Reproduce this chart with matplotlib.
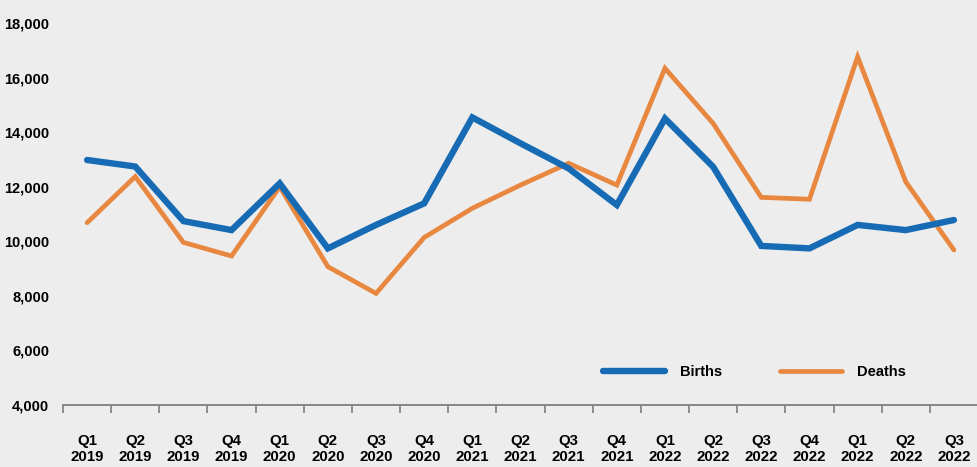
import matplotlib.pyplot as plt
from matplotlib import font_manager

# Quarter labels as shown on the chart
quarters = ["Q1\n2019", "Q2\n2019", "Q3\n2019", "Q4\n2019",
            "Q1\n2020", "Q2\n2020", "Q3\n2020", "Q4\n2020",
            "Q1\n2021", "Q2\n2021", "Q3\n2021", "Q4\n2021",
            "Q1\n2022", "Q2\n2022", "Q3\n2022", "Q4\n2022",
            "Q1\n2022", "Q2\n2022", "Q3\n2022"]

births = [12980, 12740, 10740, 10410, 12120, 9740, 10600, 11390, 14540, 13590,
          12670, 11330, 14500, 12730, 9830, 9740, 10600, 10410, 10780]
deaths = [10680, 12370, 9960, 9460, 12000, 9070, 8090, 10140, 11210, 12060,
          12860, 12060, 16340, 14320, 11610, 11540, 16760, 12180, 9680]

yticks = [4000, 6000, 8000, 10000, 12000, 14000, 16000, 18000]

# Pick a narrow Arial-like font if available
names = {f.name for f in font_manager.fontManager.ttflist}
font = "Liberation Sans Narrow" if "Liberation Sans Narrow" in names else "Liberation Sans"
plt.rcParams["font.family"] = [font, "DejaVu Sans"]

bg = "#EDEDED"
fig = plt.figure(figsize=(9.78, 4.67), dpi=100, facecolor=bg)
ax = fig.add_axes([63 / 978, 62 / 467, 1 - 63 / 978, 382 / 467], facecolor=bg)

x = list(range(len(quarters)))
ax.plot(x, births, color="#176BB5", lw=4.6, solid_capstyle="round",
        solid_joinstyle="miter", label="Births", zorder=3)
ax.plot(x, deaths, color="#E8873F", lw=3.4, solid_capstyle="round",
        solid_joinstyle="miter", label="Deaths", zorder=2)

ax.set_ylim(4000, 18000)
ax.set_xlim(-0.5, len(quarters) - 0.6)
ax.set_yticks(yticks)
ax.set_yticklabels([f"{v:,}" for v in yticks], fontsize=10.5, fontweight="bold")
ax.tick_params(axis="y", length=0, pad=10)

# category boundary ticks (major) and centred labels (minor)
ax.set_xticks([i - 0.5 for i in range(len(quarters) + 1)])
ax.set_xticklabels([])
ax.tick_params(axis="x", which="major", length=6, width=1.2, color="#7F7F7F", direction="out")
ax.set_xticks(x, minor=True)
ax.set_xticklabels(quarters, minor=True, fontsize=10.8, fontweight="bold", linespacing=1.2)
ax.tick_params(axis="x", which="minor", length=0, pad=21)

for s in ["top", "right", "left"]:
    ax.spines[s].set_visible(False)
ax.spines["bottom"].set_color("#7F7F7F")
ax.spines["bottom"].set_linewidth(1.3)

leg = ax.legend(loc="center left", bbox_to_anchor=(590 / 978, 1 - 372 / 467),
                bbox_transform=fig.transFigure, ncol=2, frameon=False,
                handlelength=4.25, columnspacing=4.0, handletextpad=1.0,
                prop={"weight": "bold", "size": 10.5})

fig.savefig("out.png", dpi=100, facecolor=bg)
